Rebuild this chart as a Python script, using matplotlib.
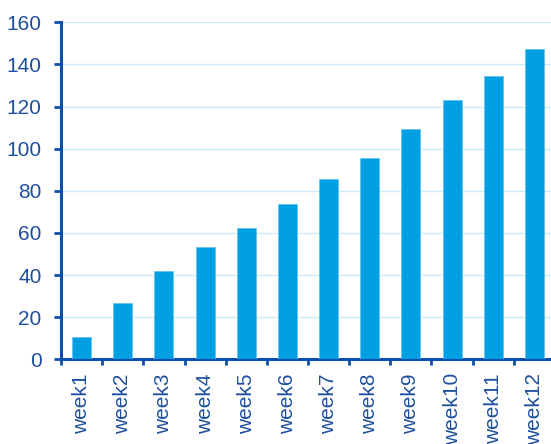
import matplotlib.pyplot as plt
from matplotlib.ticker import FixedLocator

plt.rcParams['font.family'] = ['Liberation Sans', 'DejaVu Sans']

weeks = ['week1', 'week2', 'week3', 'week4', 'week5', 'week6',
         'week7', 'week8', 'week9', 'week10', 'week11', 'week12']
values = [10.4, 26.9, 41.8, 53.2, 62.2, 73.9, 85.6, 95.7, 109.4, 123.1, 134.7, 147.2]
y_ticks = [0, 20, 40, 60, 80, 100, 120, 140, 160]

axis_blue = '#0D4EAC'
text_blue = '#1D4F9E'
bar_blue = '#009FE3'
grid_blue = '#C8ECF9'

fig = plt.figure(figsize=(5.51, 4.44), dpi=100)
ax = fig.add_axes([61 / 551, 1 - 359.3 / 444, 494 / 551, 337 / 444])

x = range(len(weeks))
ax.bar(x, values, width=0.46, color=bar_blue, edgecolor='#63C6EF', linewidth=0.6, zorder=3)

ax.set_xlim(-0.5, len(weeks) - 0.5)
ax.set_ylim(0, 160)
ax.set_yticks(y_ticks)
ax.yaxis.grid(True, color=grid_blue, linewidth=1.0, zorder=0)
ax.set_axisbelow(True)

# labels sit on category centres, tick marks on category boundaries
ax.set_xticks(list(x))
ax.set_xticklabels(weeks, rotation=90)
ax.xaxis.set_minor_locator(FixedLocator([i - 0.5 for i in range(len(weeks) + 1)]))
ax.tick_params(axis='x', which='major', length=0, pad=10, labelsize=15, labelcolor=text_blue)
ax.tick_params(axis='x', which='minor', length=4, width=2, color=axis_blue, direction='out')
ax.tick_params(axis='y', length=5, width=2, color=axis_blue, pad=9,
               labelsize=15, labelcolor=text_blue, direction='out')

for side in ['top', 'right']:
    ax.spines[side].set_visible(False)
for side in ['left', 'bottom']:
    ax.spines[side].set_color(axis_blue)
    ax.spines[side].set_linewidth(2.2)

fig.savefig('out.png', dpi=100)
